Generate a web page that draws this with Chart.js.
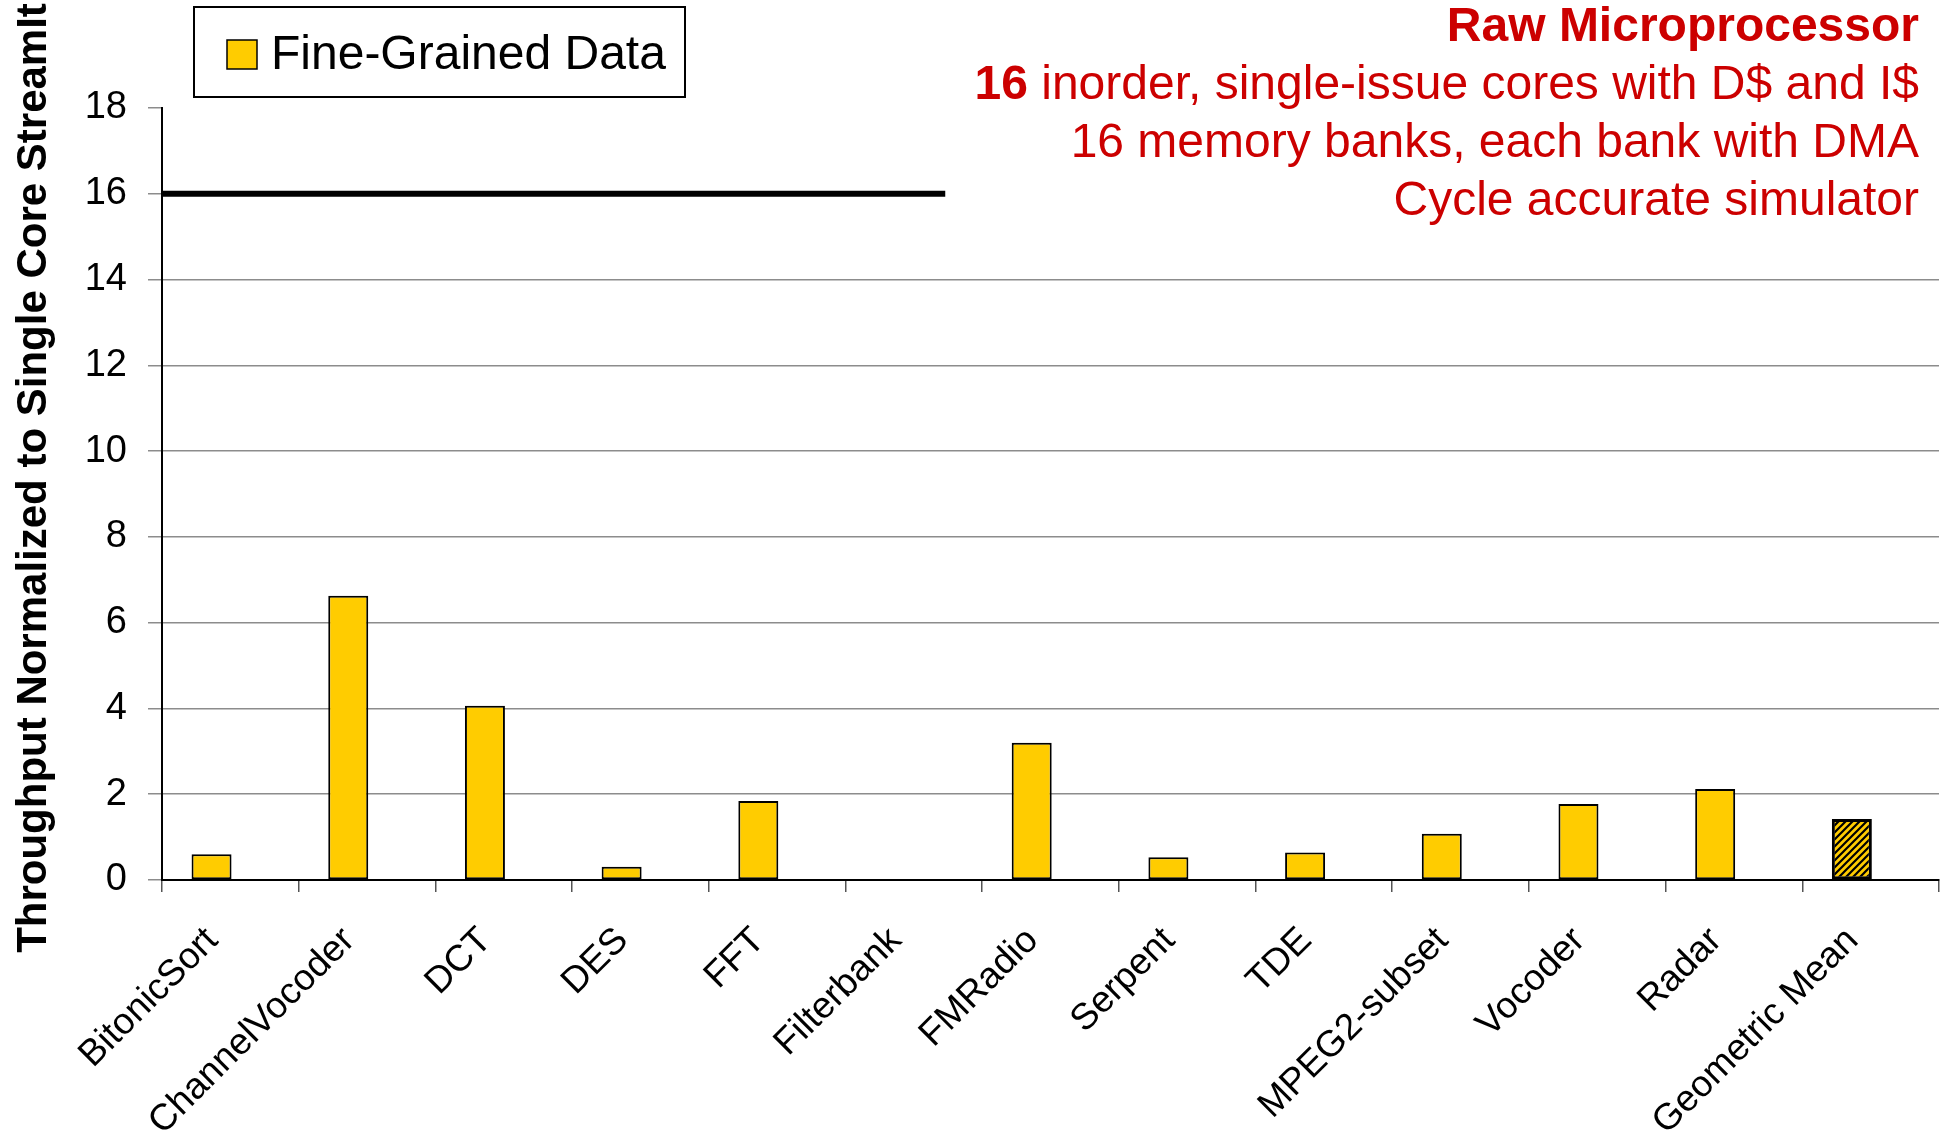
<!DOCTYPE html>
<html>
<head>
<meta charset="utf-8">
<title>Raw Microprocessor throughput</title>
<script src="https://cdn.jsdelivr.net/npm/chart.js@4.4.1/dist/chart.umd.min.js"></script>
<style>
  html, body { margin: 0; padding: 0; background: #fff; }
  #wrap { width: 1949px; height: 1133px; position: relative; }
</style>
</head>
<body>
<div id="wrap"><canvas id="throughputChart"></canvas></div>
<script>
// benchmark names along the x axis
var benchmarks = ["BitonicSort", "ChannelVocoder", "DCT", "DES", "FFT", "Filterbank",
    "FMRadio", "Serpent", "TDE", "MPEG2-subset", "Vocoder", "Radar", "Geometric Mean"];

// throughput normalized to single core StreamIt (no Filterbank result)
var fineGrainedData = [0.60, 6.63, 4.06, 0.31, 1.84, null, 3.20, 0.53, 0.64, 1.08, 1.77, 2.12, 1.42];

var yTicks = [0, 2, 4, 6, 8, 10, 12, 14, 16, 18];

// 16 cores -> ideal linear speedup
var coreCount = 16;

var yTitle = "Throughput Normalized to Single Core StreamIt";

var noteLines = [
    { bold: "Raw Microprocessor", text: "" },
    { bold: "16", text: " inorder, single-issue cores with D$ and I$" },
    { bold: "", text: "16 memory banks, each bank with DMA" },
    { bold: "", text: "Cycle accurate simulator" }
];

var FONT = "'Liberation Sans', Arial, sans-serif";
var YELLOW = "#FFCC00";
var NOTE_RED = "#CC0000";

// diagonal black stripes for the mean bar
function makeHatch() {
    var c = document.createElement("canvas");
    c.width = 7; c.height = 7;
    var g = c.getContext("2d");
    g.fillStyle = YELLOW;
    g.fillRect(0, 0, 7, 7);
    g.strokeStyle = "#000";
    g.lineWidth = 2.2;
    g.beginPath();
    g.moveTo(-1, 8); g.lineTo(8, -1);
    g.moveTo(-1, 1); g.lineTo(1, -1);
    g.moveTo(6, 8); g.lineTo(8, 6);
    g.stroke();
    return g.createPattern(c, "repeat");
}

var hatch = makeHatch();
var lastIdx = benchmarks.length - 1;

// thick black line at the core count
var idealLinePlugin = {
    id: "idealLine",
    afterDatasetsDraw: function (chart, args, opts) {
        var ctx = chart.ctx;
        var y = chart.scales.y.getPixelForValue(coreCount);
        var x0 = chart.chartArea.left;
        var x1 = chart.scales.x.getPixelForValue(opts.endAt);
        ctx.save();
        ctx.strokeStyle = "#000";
        ctx.lineWidth = 6;
        ctx.beginPath();
        ctx.moveTo(x0, y);
        ctx.lineTo(x1, y);
        ctx.stroke();
        ctx.restore();
    }
};

// boxed legend in the top left
var boxLegendPlugin = {
    id: "boxLegend",
    afterDraw: function (chart, args, opts) {
        var ctx = chart.ctx;
        ctx.save();
        ctx.strokeStyle = "#000";
        ctx.lineWidth = 2;
        ctx.strokeRect(opts.x, opts.y, opts.w, opts.h);
        ctx.fillStyle = YELLOW;
        ctx.fillRect(opts.x + 33, opts.y + 33, 30, 29);
        ctx.lineWidth = 1.5;
        ctx.strokeRect(opts.x + 33, opts.y + 33, 30, 29);
        ctx.fillStyle = "#000";
        ctx.font = "48px " + FONT;
        ctx.textBaseline = "middle";
        ctx.textAlign = "left";
        ctx.fillText(chart.data.datasets[0].label, opts.x + 77, opts.y + 49);
        ctx.restore();
    }
};

// rotated y axis title
var yTitlePlugin = {
    id: "yTitle",
    afterDraw: function (chart, args, opts) {
        var ctx = chart.ctx;
        ctx.save();
        ctx.translate(opts.x, opts.y);
        ctx.rotate(-Math.PI / 2);
        ctx.fillStyle = "#000";
        ctx.font = "bold 42px " + FONT;
        ctx.textAlign = "center";
        ctx.textBaseline = "middle";
        ctx.fillText(yTitle, 0, 0);
        ctx.restore();
    }
};

// red setup description, right aligned
var notesPlugin = {
    id: "notes",
    afterDraw: function (chart, args, opts) {
        var ctx = chart.ctx;
        ctx.save();
        ctx.fillStyle = NOTE_RED;
        ctx.textBaseline = "alphabetic";
        ctx.textAlign = "right";
        noteLines.forEach(function (line, i) {
            var y = opts.firstBaseline + i * opts.lineGap;
            var x = opts.right;
            if (line.text) {
                ctx.font = opts.size + "px " + FONT;
                ctx.fillText(line.text, x, y);
                x -= ctx.measureText(line.text).width;
            }
            if (line.bold) {
                ctx.font = "bold " + opts.size + "px " + FONT;
                ctx.fillText(line.bold, x, y);
            }
        });
        ctx.restore();
    }
};

new Chart(document.getElementById("throughputChart"), {
    type: "bar",
    data: {
        labels: benchmarks,
        datasets: [{
            label: "Fine-Grained Data",
            data: fineGrainedData,
            backgroundColor: benchmarks.map(function (b, i) { return i == lastIdx ? hatch : YELLOW; }),
            borderColor: "#000",
            borderWidth: benchmarks.map(function (b, i) { return i == lastIdx ? 3 : 2; }),
            borderSkipped: false,
            categoryPercentage: 0.55,
            barPercentage: 1.064
        }, {
            // empty second slot of the cluster, keeps bars left of centre
            label: "",
            data: [],
            categoryPercentage: 0.55,
            barPercentage: 1.064
        }]
    },
    options: {
        responsive: true,
        maintainAspectRatio: false,
        animation: false,
        layout: {
            padding: { top: 108, right: 10, left: 0, bottom: 0 }
        },
        scales: {
            x: {
                offset: true,
                grid: {
                    offset: true,
                    drawOnChartArea: false,
                    tickLength: 12,
                    color: "#555",
                    lineWidth: 1.5
                },
                border: { color: "#000", width: 2 },
                ticks: {
                    autoSkip: false,
                    minRotation: 45,
                    maxRotation: 45,
                    color: "#000",
                    padding: 27,
                    labelOffset: -18,
                    font: { size: 37, family: FONT }
                },
                afterFit: function (s) { s.height = 253; }
            },
            y: {
                min: 0,
                max: 18,
                afterBuildTicks: function (s) {
                    s.ticks = yTicks.map(function (v) { return { value: v }; });
                },
                grid: {
                    color: function (ctx) {
                        return ctx.tick && ctx.tick.value >= 16 ? "rgba(0,0,0,0)" : "#8c8c8c";
                    },
                    tickColor: "#8c8c8c",
                    lineWidth: 1.5,
                    tickLength: 14
                },
                border: { color: "#000", width: 2 },
                ticks: {
                    color: "#000",
                    padding: 21,
                    font: { size: 38, family: FONT }
                },
                afterFit: function (s) { s.width = 162; }
            }
        },
        plugins: {
            legend: { display: false },
            tooltip: { enabled: false },
            idealLine: { endAt: 5.23 },
            boxLegend: { x: 194, y: 7, w: 491, h: 90 },
            yTitle: { x: 34, y: 478 },
            notes: { right: 1919, firstBaseline: 41, lineGap: 58, size: 48 }
        }
    },
    plugins: [idealLinePlugin, boxLegendPlugin, yTitlePlugin, notesPlugin]
});
</script>
</body>
</html>
